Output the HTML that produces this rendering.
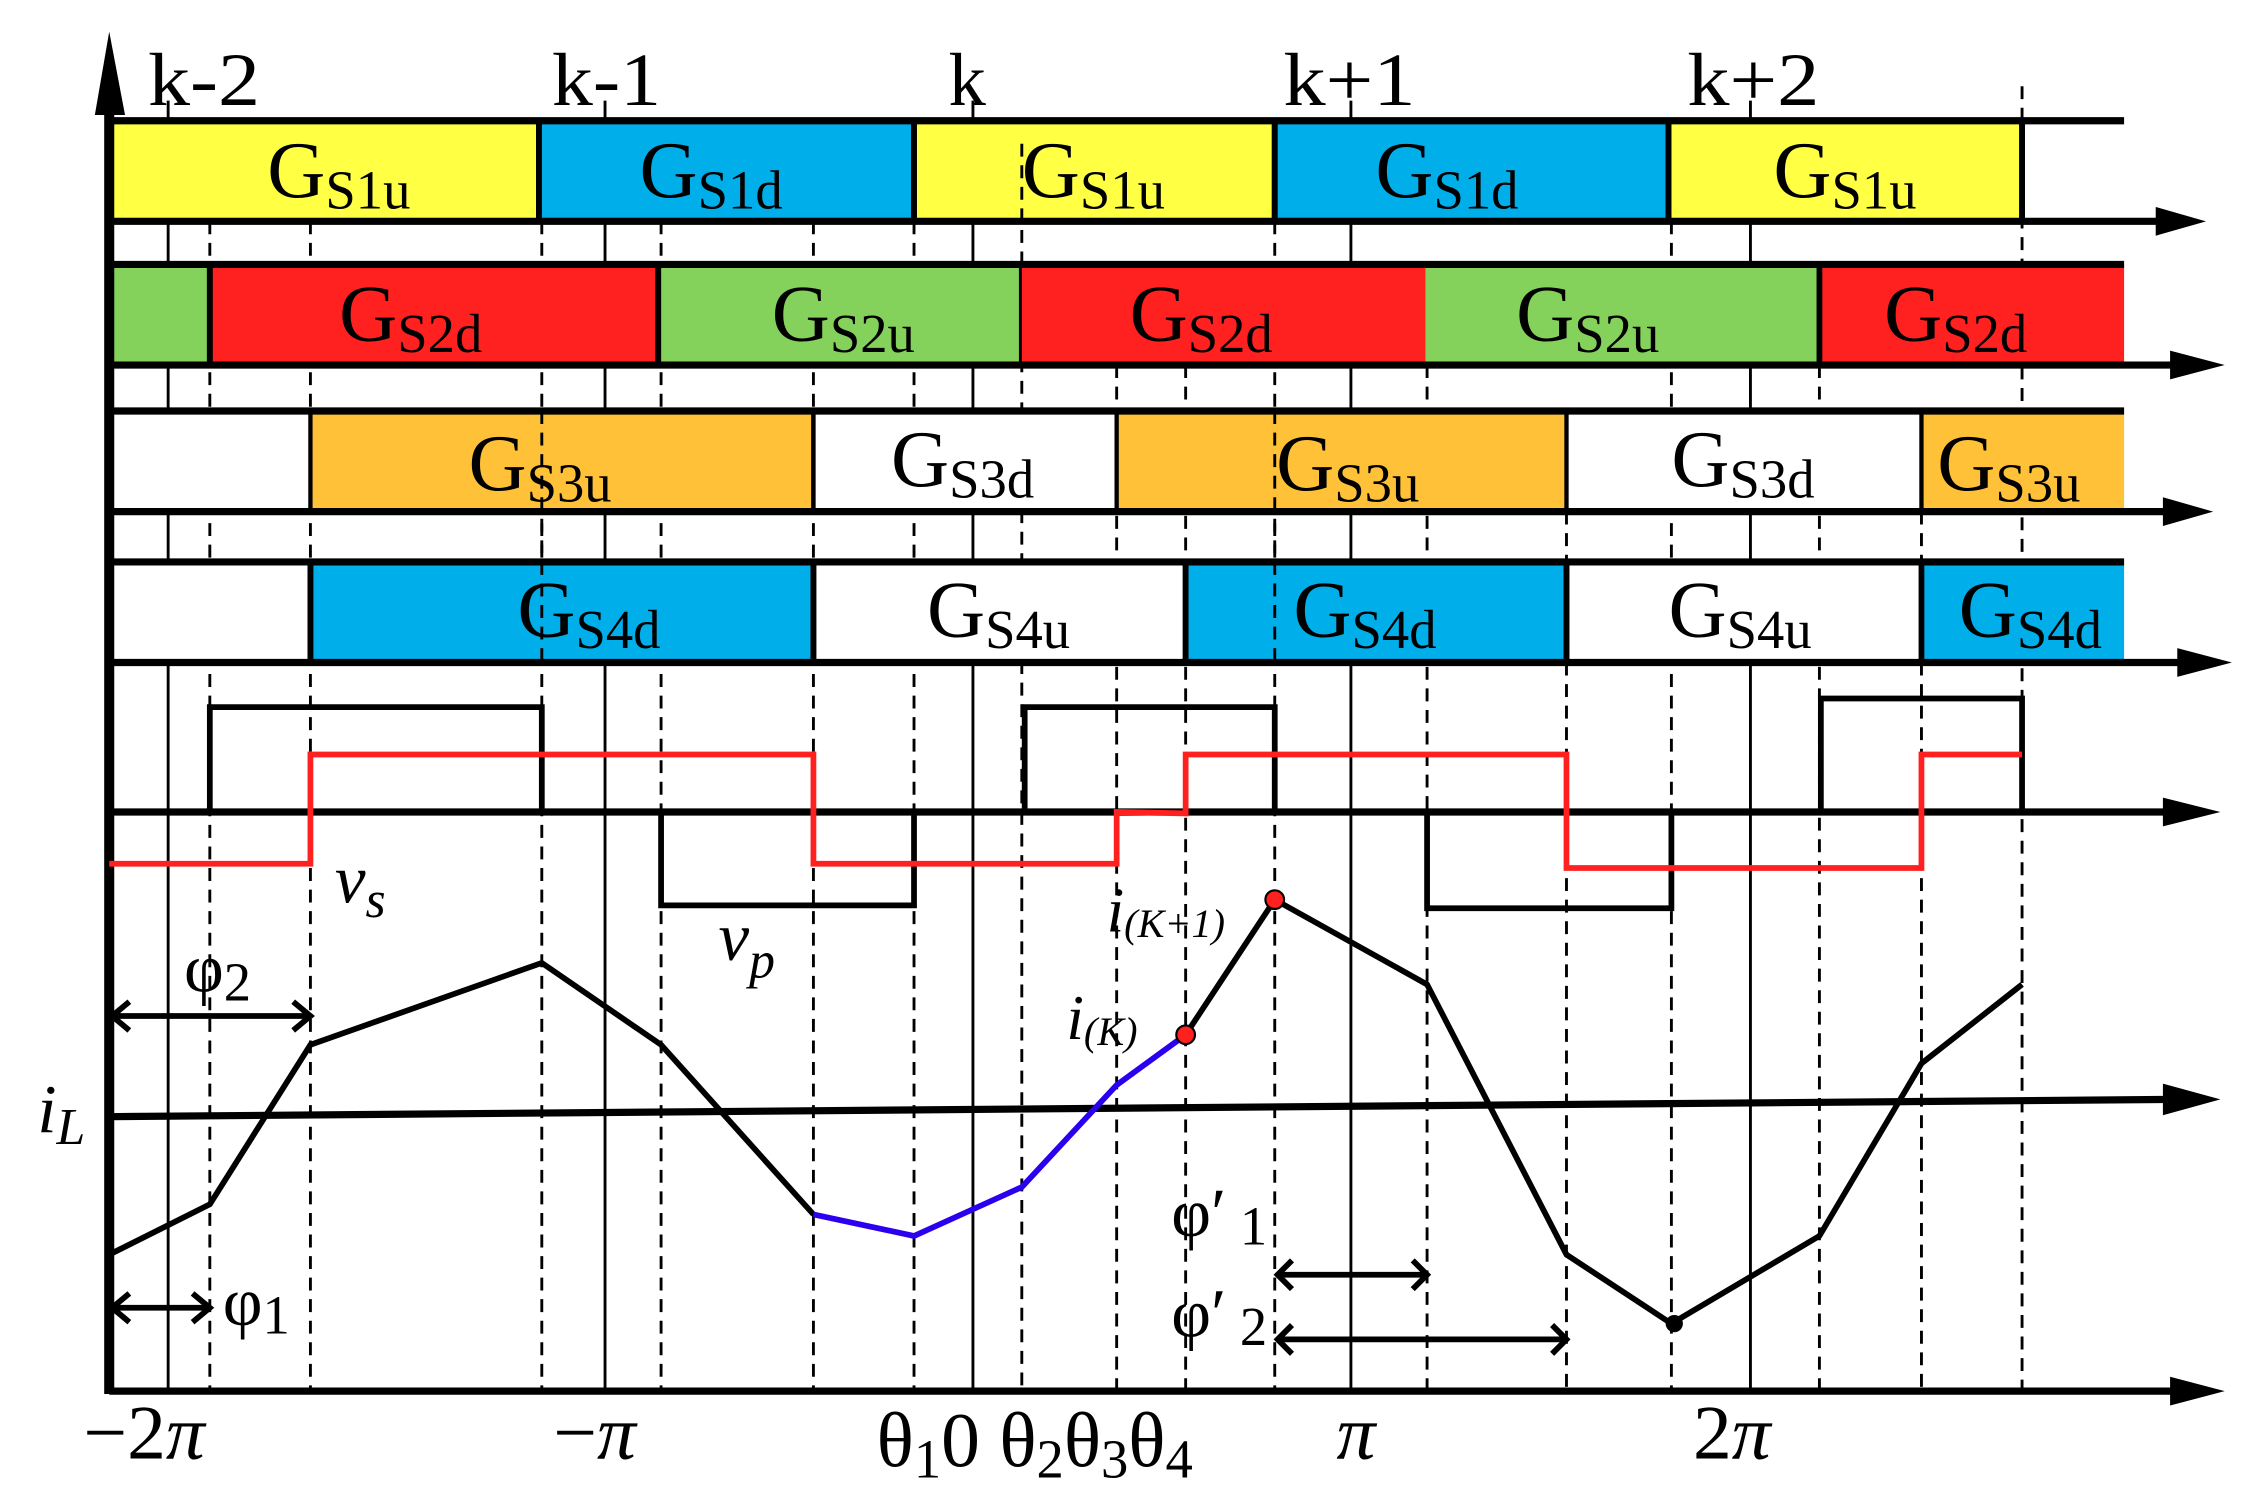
<!DOCTYPE html>
<html><head><meta charset="utf-8"><style>
html,body{margin:0;padding:0;background:#fff;}
svg{display:block;}
text{font-family:"Liberation Serif",serif;fill:#000;}
</style></head><body>
<svg width="2252" height="1509" viewBox="0 0 1567 1050" preserveAspectRatio="none" xmlns="http://www.w3.org/2000/svg">
<!-- vertical solid thin -->
<g stroke="#000" stroke-width="2">
<line x1="117" y1="70" x2="117" y2="968"/>
<line x1="421" y1="70" x2="421" y2="968"/>
<line x1="677" y1="70" x2="677" y2="968"/>
<line x1="940" y1="70" x2="940" y2="968"/>
<line x1="1218" y1="70" x2="1218" y2="968"/>
</g>
<!-- dashed -->
<g stroke="#000" stroke-width="2" stroke-dasharray="9,6">
<line x1="146" y1="154" x2="146" y2="968"/>
<line x1="216" y1="154" x2="216" y2="968"/>
<line x1="377" y1="154" x2="377" y2="968"/>
<line x1="460" y1="154" x2="460" y2="968"/>
<line x1="566" y1="154" x2="566" y2="968"/>
<line x1="636" y1="154" x2="636" y2="968"/>
<line x1="711" y1="100" x2="711" y2="968"/>
<line x1="777" y1="254" x2="777" y2="968"/>
<line x1="825" y1="254" x2="825" y2="968"/>
<line x1="887" y1="154" x2="887" y2="968"/>
<line x1="993" y1="254" x2="993" y2="968"/>
<line x1="1090" y1="356" x2="1090" y2="968"/>
<line x1="1163" y1="154" x2="1163" y2="968"/>
<line x1="1266" y1="254" x2="1266" y2="968"/>
<line x1="1337" y1="356" x2="1337" y2="968"/>
<line x1="1407" y1="60" x2="1407" y2="968"/>
</g>
<!-- Row fills -->
<g stroke="#000" stroke-width="4">
<rect x="76" y="84" width="299" height="70" fill="#FFFF44"/>
<rect x="375" y="84" width="261" height="70" fill="#00AEEA"/>
<rect x="636" y="84" width="251" height="70" fill="#FFFF44"/>
<rect x="887" y="84" width="274" height="70" fill="#00AEEA"/>
<rect x="1161" y="84" width="246" height="70" fill="#FFFF44"/>
</g>
<g stroke="#000" stroke-width="4">
<rect x="76" y="184" width="70" height="70" fill="#84D15C"/>
<rect x="146" y="184" width="312" height="70" fill="#FF2020"/>
<rect x="458" y="184" width="253" height="70" fill="#84D15C"/>
<rect x="711" y="184" width="281" height="70" fill="#FF2020" stroke="none"/>
<rect x="992" y="184" width="274" height="70" fill="#84D15C" stroke="none"/>
<rect x="1266" y="184" width="212" height="70" fill="#FF2020" stroke="none"/>
<line x1="1266" y1="184" x2="1266" y2="254"/>
</g>
<g stroke="#000" stroke-width="3">
<rect x="78" y="286" width="1400" height="70" fill="#fff" stroke="none"/>
<rect x="216" y="286" width="350" height="70" fill="#FFC137"/>
<rect x="777" y="286" width="313" height="70" fill="#FFC137" stroke="none"/>
<rect x="1337" y="286" width="141" height="70" fill="#FFC137" stroke="none"/>
<line x1="566" y1="286" x2="566" y2="356"/><line x1="777" y1="286" x2="777" y2="356"/>
<line x1="1090" y1="286" x2="1090" y2="356"/><line x1="1337" y1="286" x2="1337" y2="356"/>
</g>
<g stroke="#000" stroke-width="4">
<rect x="78" y="391" width="1400" height="70" fill="#fff" stroke="none"/>
<rect x="216" y="391" width="350" height="70" fill="#00AEEA"/>
<rect x="825" y="391" width="265" height="70" fill="#00AEEA"/>
<rect x="1337" y="391" width="141" height="70" fill="#00AEEA" stroke="none"/>
<line x1="1337" y1="391" x2="1337" y2="461"/>
</g>
<!-- overlay dashes visible in boxes -->
<g stroke="#000" stroke-width="2" stroke-dasharray="9,6">
<line x1="711" y1="100" x2="711" y2="154"/>
<line x1="377" y1="286" x2="377" y2="461"/>
<line x1="887" y1="286" x2="887" y2="461"/>
</g>
<!-- horizontal lines -->
<g stroke="#000" stroke-width="5">
<line x1="76" y1="84" x2="1478" y2="84"/>
<line x1="76" y1="184" x2="1478" y2="184"/>
<line x1="76" y1="286" x2="1478" y2="286"/>
<line x1="76" y1="391" x2="1478" y2="391"/>
<line x1="76" y1="154" x2="1505" y2="154"/>
<line x1="76" y1="254" x2="1515" y2="254"/>
<line x1="76" y1="356" x2="1510" y2="356"/>
<line x1="76" y1="461" x2="1520" y2="461"/>
<line x1="76" y1="565" x2="1510" y2="565"/>
<line x1="76" y1="777" x2="1510" y2="765"/>
<line x1="76" y1="968" x2="1515" y2="968"/>
</g>
<g fill="#000">
<polygon points="1500,144 1535,154 1500,164"/>
<polygon points="1510,244 1548,254 1510,264"/>
<polygon points="1505,346 1540,356 1505,366"/>
<polygon points="1515,451 1553,461 1515,471"/>
<polygon points="1505,555 1545,565 1505,575"/>
<polygon points="1505,754 1545,765 1505,776"/>
<polygon points="1510,958 1548,968 1510,978"/>
<polygon points="66,80 76,22 87,80"/>
</g>
<line x1="76" y1="70" x2="76" y2="970" stroke="#000" stroke-width="7"/>
<g stroke="#000" stroke-width="4">
<line x1="146" y1="184" x2="146" y2="254"/><line x1="458" y1="184" x2="458" y2="254"/>
<line x1="375" y1="84" x2="375" y2="154"/><line x1="636" y1="84" x2="636" y2="154"/>
<line x1="887" y1="84" x2="887" y2="154"/><line x1="1161" y1="84" x2="1161" y2="154"/><line x1="1407" y1="84" x2="1407" y2="154"/>
<line x1="216" y1="391" x2="216" y2="461"/><line x1="566" y1="391" x2="566" y2="461"/>
<line x1="825" y1="391" x2="825" y2="461"/><line x1="1090" y1="391" x2="1090" y2="461"/>
</g>
<!-- vp -->
<polyline fill="none" stroke="#000" stroke-width="4" points="146,565 146,492 377,492 377,565"/>
<polyline fill="none" stroke="#000" stroke-width="4" points="460,565 460,630 636,630 636,565"/>
<polyline fill="none" stroke="#000" stroke-width="4" points="713,565 713,492 887,492 887,565"/>
<polyline fill="none" stroke="#000" stroke-width="4" points="993,565 993,632 1163,632 1163,565"/>
<polyline fill="none" stroke="#000" stroke-width="4" points="1267,565 1267,486 1407,486 1407,565"/>
<!-- vs -->
<polyline fill="none" stroke="#FF2020" stroke-width="4" points="76,601 216,601 216,525 566,525 566,601 777,601 777,565 825,566 825,525 1090,525 1090,604 1337,604 1337,525 1407,525"/>
<!-- iL -->
<polyline fill="none" stroke="#000" stroke-width="4" points="76,873 146,838 216,727 377,670 460,727 566,845"/>
<polyline fill="none" stroke="#2B00EE" stroke-width="4" points="566,845 636,860 711,826 777,755 825,720"/>
<polyline fill="none" stroke="#000" stroke-width="4" points="825,720 887,626 993,685 1090,873 1163,921 1266,860 1337,740 1407,685"/>
<circle cx="825" cy="720" r="6.5" fill="#FF2020" stroke="#000" stroke-width="1.5"/>
<circle cx="887" cy="626" r="6.5" fill="#FF2020" stroke="#000" stroke-width="1.5"/>
<circle cx="1165" cy="921" r="6" fill="#000"/>
<!-- phi arrows -->
<g stroke="#000" stroke-width="4" fill="none">
<line x1="78" y1="707" x2="214" y2="707"/><polyline points="90,697 78,707 90,717"/><polyline points="204,697 216,707 204,717"/>
<line x1="78" y1="910" x2="144" y2="910"/><polyline points="90,900 78,910 90,920"/><polyline points="134,900 146,910 134,920"/>
<line x1="889" y1="887" x2="991" y2="887"/><polyline points="899,877 889,887 899,897"/><polyline points="983,877 993,887 983,897"/>
<line x1="889" y1="932" x2="1088" y2="932"/><polyline points="899,922 889,932 899,942"/><polyline points="1080,922 1090,932 1080,942"/>
</g>
<!-- k labels -->
<g font-size="52">
<text x="103" y="73" textLength="78" lengthAdjust="spacingAndGlyphs">k-2</text>
<text x="384" y="73" textLength="76" lengthAdjust="spacingAndGlyphs">k-1</text>
<text x="660" y="73">k</text>
<text x="893" y="73" textLength="92" lengthAdjust="spacingAndGlyphs">k+1</text>
<text x="1174" y="73" textLength="92" lengthAdjust="spacingAndGlyphs">k+2</text>
</g>
<!-- G labels -->
<g font-size="56">
<text x="186" y="137">G<tspan font-size="38" dy="8">S1u</tspan></text>
<text x="445" y="137">G<tspan font-size="38" dy="8">S1d</tspan></text>
<text x="711" y="137">G<tspan font-size="38" dy="8">S1u</tspan></text>
<text x="957" y="137">G<tspan font-size="38" dy="8">S1d</tspan></text>
<text x="1234" y="137">G<tspan font-size="38" dy="8">S1u</tspan></text>
<text x="236" y="237">G<tspan font-size="38" dy="8">S2d</tspan></text>
<text x="537" y="237">G<tspan font-size="38" dy="8">S2u</tspan></text>
<text x="786" y="237">G<tspan font-size="38" dy="8">S2d</tspan></text>
<text x="1055" y="237">G<tspan font-size="38" dy="8">S2u</tspan></text>
<text x="1311" y="237">G<tspan font-size="38" dy="8">S2d</tspan></text>
<text x="326" y="341">G<tspan font-size="38" dy="8">S3u</tspan></text>
<text x="620" y="338">G<tspan font-size="38" dy="8">S3d</tspan></text>
<text x="888" y="341">G<tspan font-size="38" dy="8">S3u</tspan></text>
<text x="1163" y="338">G<tspan font-size="38" dy="8">S3d</tspan></text>
<text x="1348" y="341">G<tspan font-size="38" dy="8">S3u</tspan></text>
<text x="360" y="443">G<tspan font-size="38" dy="8">S4d</tspan></text>
<text x="645" y="443">G<tspan font-size="38" dy="8">S4u</tspan></text>
<text x="900" y="443">G<tspan font-size="38" dy="8">S4d</tspan></text>
<text x="1161" y="443">G<tspan font-size="38" dy="8">S4u</tspan></text>
<text x="1363" y="443">G<tspan font-size="38" dy="8">S4d</tspan></text>
</g>
<!-- other labels -->
<g font-style="italic">
<text x="233" y="628" font-size="48">v<tspan font-size="36" dy="10">s</tspan></text>
<text x="500" y="668" font-size="48">v<tspan font-size="36" dy="12">p</tspan></text>
<text x="26" y="788" font-size="48">i<tspan font-size="36" dy="8">L</tspan></text>
<text x="770" y="648" font-size="44">i<tspan font-size="28" dy="4">(K+1)</tspan></text>
<text x="742" y="723" font-size="44">i<tspan font-size="28" dy="4">(K)</tspan></text>
</g>
<g font-size="48">
<text x="128" y="690">φ<tspan font-size="38" dy="6">2</tspan></text>
<text x="155" y="922">φ<tspan font-size="38" dy="6">1</tspan></text>
<text x="815" y="860">φ′<tspan font-size="38" dy="6"> 1</tspan></text>
<text x="815" y="930">φ′<tspan font-size="38" dy="6"> 2</tspan></text>
<text x="58" y="1015" font-size="54">−2<tspan font-style="italic">π</tspan></text>
<text x="385" y="1015" font-size="54">−<tspan font-style="italic">π</tspan></text>
<text x="610" y="1020" font-size="54">θ<tspan font-size="38" dy="8">1</tspan><tspan dy="-8">0 θ</tspan><tspan font-size="38" dy="8">2</tspan><tspan dy="-8">θ</tspan><tspan font-size="38" dy="8">3</tspan><tspan dy="-8">θ</tspan><tspan font-size="38" dy="8">4</tspan></text>
<text x="930" y="1015" font-size="54" font-style="italic">π</text>
<text x="1178" y="1015" font-size="54">2<tspan font-style="italic">π</tspan></text>
</g>
</svg>
</body></html>
